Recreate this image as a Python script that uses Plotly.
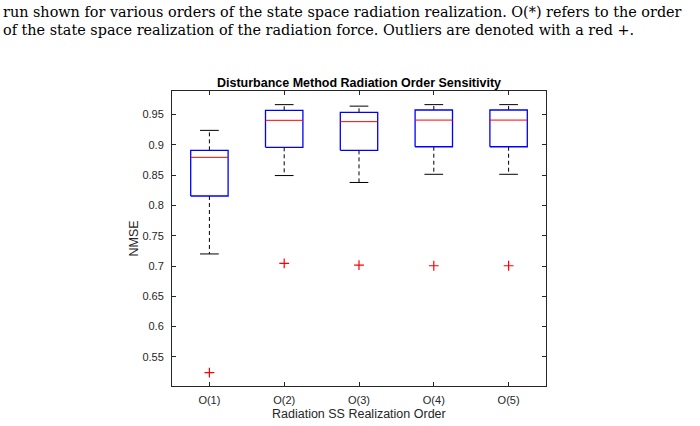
import plotly.graph_objects as go

# ---- data ----
categories = ["O(1)", "O(2)", "O(3)", "O(4)", "O(5)"]
lower_whisker = [0.720, 0.8494, 0.838, 0.8515, 0.8515]
q1 = [0.8157, 0.896, 0.891, 0.897, 0.897]
median = [0.8795, 0.9406, 0.9384, 0.941, 0.941]
q3 = [0.891, 0.957, 0.9538, 0.9576, 0.9576]
upper_whisker = [0.924, 0.9665, 0.964, 0.9665, 0.9665]
outliers = [0.524, 0.7045, 0.7017, 0.7005, 0.7005]

y_tick_vals = [0.55, 0.6, 0.65, 0.7, 0.75, 0.8, 0.85, 0.9, 0.95]
y_tick_text = ["0.55", "0.6", "0.65", "0.7", "0.75", "0.8", "0.85", "0.9", "0.95"]

caption_lines = [
    "run shown for various orders of the state space radiation realization. O(*) refers to the order",
    "of the state space realization of the radiation force. Outliers are denoted with a red +.",
]

# ---- geometry/style ----
BOX_HALF = 0.25
CAP_HALF = 0.125
AX = "#262626"
SANS = "Liberation Sans, Arial, Helvetica"

pos = list(range(1, len(categories) + 1))

box_x, box_y = [], []
med_x, med_y = [], []
wh_x, wh_y = [], []
cap_x, cap_y = [], []
for p, lo, a, m, b, hi in zip(pos, lower_whisker, q1, median, q3, upper_whisker):
    box_x += [p - BOX_HALF, p + BOX_HALF, p + BOX_HALF, p - BOX_HALF, p - BOX_HALF, None]
    box_y += [a, a, b, b, a, None]
    med_x += [p - BOX_HALF, p + BOX_HALF, None]
    med_y += [m, m, None]
    wh_x += [p, p, None, p, p, None]
    wh_y += [b, hi, None, a, lo, None]
    cap_x += [p - CAP_HALF, p + CAP_HALF, None, p - CAP_HALF, p + CAP_HALF, None]
    cap_y += [hi, hi, None, lo, lo, None]

fig = go.Figure()
fig.add_trace(go.Scatter(x=wh_x, y=wh_y, mode="lines",
                         line=dict(color="black", width=1, dash="4px,3px"),
                         hoverinfo="skip"))
fig.add_trace(go.Scatter(x=cap_x, y=cap_y, mode="lines",
                         line=dict(color="black", width=1), hoverinfo="skip"))
fig.add_trace(go.Scatter(x=box_x, y=box_y, mode="lines",
                         line=dict(color="#0000ff", width=1.3), hoverinfo="skip"))
fig.add_trace(go.Scatter(x=med_x, y=med_y, mode="lines",
                         line=dict(color="#ff0000", width=1), hoverinfo="skip"))
fig.add_trace(go.Scatter(x=pos, y=outliers, mode="markers",
                         marker=dict(symbol="cross-thin", size=7,
                                     line=dict(color="#ff0000", width=1.2)),
                         hoverinfo="skip"))

W, H = 700, 426
ml, mr, mt, mb = 172, 154, 91, 40
pw = W - ml - mr
ph = H - mt - mb


def px_to_paper_x(xp):
    return (xp - ml) / pw


def px_to_paper_y(yp):
    return (H - mb - yp) / ph


annotations = [
    dict(text="NMSE", xref="paper", yref="paper",
         x=px_to_paper_x(133), y=0.5, textangle=-90, showarrow=False,
         xanchor="center", yanchor="middle",
         font=dict(family=SANS, size=12.5, color=AX)),
    dict(text="Radiation SS Realization Order", xref="paper", yref="paper",
         x=0.5, y=px_to_paper_y(414), showarrow=False,
         xanchor="center", yanchor="middle",
         font=dict(family=SANS, size=12.5, color=AX)),
]
for line, yc in zip(caption_lines, [12, 30]):
    annotations.append(dict(text=line, xref="paper", yref="paper",
                            x=px_to_paper_x(1), y=px_to_paper_y(yc),
                            showarrow=False, xanchor="left", yanchor="middle",
                            font=dict(family="DejaVu Serif", size=14.4, color="black")))

fig.update_layout(
    width=W, height=H,
    margin=dict(l=ml, r=mr, t=mt, b=mb),
    paper_bgcolor="white", plot_bgcolor="white",
    showlegend=False,
    title=dict(text="<b>Disturbance Method Radiation Order Sensitivity</b>",
               x=0.5, xref="paper", y=1 - 82.5 / H, yref="container",
               xanchor="center", yanchor="middle",
               font=dict(family=SANS, size=12.5, color="black")),
    annotations=annotations,
    xaxis=dict(range=[0.5, 5.5], tickvals=pos, ticktext=categories,
               showgrid=False, zeroline=False, showline=True, linecolor=AX,
               linewidth=1, mirror="ticks", ticks="inside", ticklen=4,
               tickcolor=AX, ticklabelstandoff=4,
               tickfont=dict(family=SANS, size=11, color=AX)),
    yaxis=dict(range=[0.502, 0.989], tickvals=y_tick_vals, ticktext=y_tick_text,
               showgrid=False, zeroline=False, showline=True, linecolor=AX,
               linewidth=1, mirror="ticks", ticks="inside", ticklen=4,
               tickcolor=AX, ticklabelstandoff=5,
               tickfont=dict(family=SANS, size=11, color=AX)),
)

fig.write_html("out.html")
